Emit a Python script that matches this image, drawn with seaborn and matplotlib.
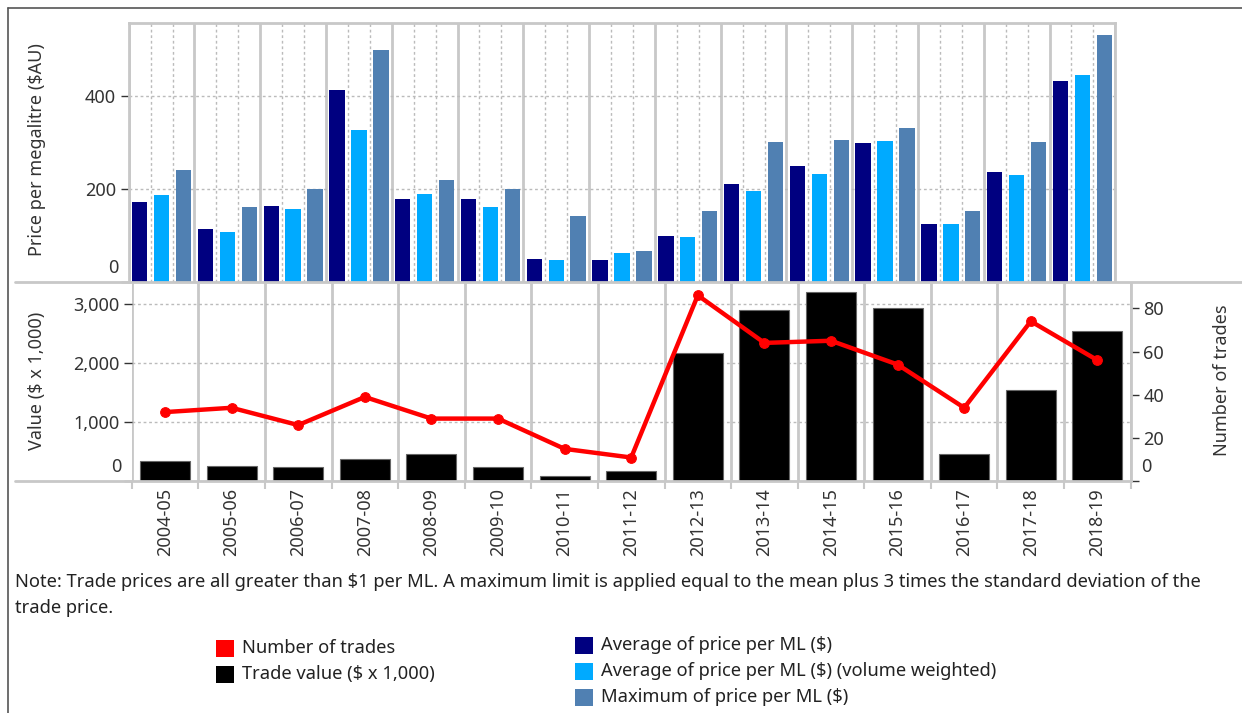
import numpy as np
import pandas as pd
import matplotlib
matplotlib.use('Agg')
import matplotlib.pyplot as plt
import seaborn as sns
from matplotlib.patches import Rectangle
from matplotlib.lines import Line2D

# Data
years = ['2004-05', '2005-06', '2006-07', '2007-08', '2008-09', '2009-10', '2010-11',
         '2011-12', '2012-13', '2013-14', '2014-15', '2015-16', '2016-17', '2017-18', '2018-19']
avg_price = [173, 113, 164, 412, 178, 178, 50, 47, 98, 210, 250, 298, 124, 236, 432]
avg_price_vw = [187, 107, 156, 326, 190, 161, 47, 62, 96, 195, 233, 303, 124, 230, 446]
max_price = [241, 161, 200, 500, 220, 201, 141, 67, 152, 301, 306, 332, 152, 301, 532]
trade_value = [349, 265, 237, 373, 468, 237, 85, 175, 2175, 2898, 3208, 2937, 468, 1547, 2553]
num_trades = [32, 34, 26, 39, 29, 29, 15, 11, 86, 64, 65, 54, 34, 74, 56]

series_names = ['Average of price per ML ($)',
                'Average of price per ML ($) (volume weighted)',
                'Maximum of price per ML ($)']
series_colors = ['#000080', '#00AAFF', '#5080B2']

df_price = pd.DataFrame({
    'year': years * 3,
    'price': avg_price + avg_price_vw + max_price,
    'series': [s for s in series_names for _ in years],
})
df_trades = pd.DataFrame({'year': years, 'value': trade_value,
                          'pos': np.arange(len(years)), 'count': num_trades})

sns.set_theme(style='white')
plt.rcParams['font.family'] = ['Noto Sans', 'DejaVu Sans']

W, H = 1242, 713
def fx(px):
    return px / W
def fy(py):
    return 1 - py / H

grid_c = '#C8C8C8'
text_c = '#333333'
axfs = 13

fig = plt.figure(figsize=(12.42, 7.13), dpi=100)
ax_top = fig.add_axes([fx(128.7), fy(282), fx(1115.3) - fx(128.7), (282 - 23) / H])
ax_bot = fig.add_axes([fx(131.7), fy(481.3), fx(1130.7) - fx(131.7), (481.3 - 283) / H])

# ---- top panel: prices
sns.barplot(data=df_price, x='year', y='price', hue='series', hue_order=series_names,
            palette=series_colors, width=1.0, gap=0.3, legend=False, ax=ax_top,
            edgecolor='none', saturation=1)
ax_top.set_xlim(-0.5, len(years) - 0.5)
ax_top.set_ylim(0, 557)
ax_top.set_xlabel('')
ax_top.set_ylabel('')
sub = np.sort(np.concatenate([np.arange(len(years)) - 1/6, np.arange(len(years)) + 1/6]))
ax_top.set_xticks(sub)
ax_top.set_xticks(np.arange(-0.5, len(years), 1), minor=True)
ax_top.tick_params(axis='x', which='both', length=0, labelbottom=False)
ax_top.set_yticks([0, 200, 400])
ax_top.set_yticklabels(['', '200', '400'])
ax_top.tick_params(axis='y', length=6, width=1, color=text_c, labelcolor=text_c,
                   labelsize=axfs, pad=3, left=True)
ax_top.set_axisbelow(True)
ax_top.grid(axis='y', which='major', linestyle=(0, (2, 2)), color='#BBBBBB', linewidth=1)
ax_top.grid(axis='x', which='major', linestyle=(0, (2, 2)), color='#BBBBBB', linewidth=1)
ax_top.grid(axis='x', which='minor', linestyle='-', color=grid_c, linewidth=2)
for s in ['top', 'left', 'right']:
    ax_top.spines[s].set_color(grid_c)
    ax_top.spines[s].set_linewidth(2)
ax_top.spines['bottom'].set_visible(False)
ax_top.annotate('0', xy=(0, 0), xycoords=('axes fraction', 'data'), xytext=(-10, 14),
                textcoords='offset pixels', ha='right', va='center',
                fontsize=axfs, color=text_c)

# ---- bottom panel: trade value bars and number of trades line
sns.barplot(data=df_trades, x='year', y='value', color='black', width=0.75,
            edgecolor='#666666', linewidth=0.8, saturation=1, ax=ax_bot)
ax_bot.set_xlim(-0.5, len(years) - 0.5)
ax_bot.set_ylim(0, 3360)
ax_bot.set_xlabel('')
ax_bot.set_ylabel('')
ax_bot.set_xticks(np.arange(len(years)))
ax_bot.set_xticklabels(years, rotation=90)
ax_bot.set_xticks(np.arange(-0.5, len(years), 1), minor=True)
ax_bot.tick_params(axis='x', which='major', length=0, pad=5, labelsize=axfs,
                   labelcolor=text_c)
ax_bot.tick_params(axis='x', which='minor', length=6, width=1.5, color=grid_c, bottom=True)
ax_bot.set_yticks([0, 1000, 2000, 3000])
ax_bot.set_yticklabels(['', '1,000', '2,000', '3,000'])
ax_bot.tick_params(axis='y', length=6, width=1, color=text_c, labelcolor=text_c,
                   labelsize=axfs, pad=3, left=True)
ax_bot.set_axisbelow(True)
ax_bot.grid(axis='y', which='major', linestyle=(0, (2, 2)), color='#BBBBBB', linewidth=1)
ax_bot.grid(axis='x', which='minor', linestyle='-', color=grid_c, linewidth=2)
for s in ['top', 'left', 'right', 'bottom']:
    ax_bot.spines[s].set_visible(False)
ax_bot.annotate('0', xy=(0, 0), xycoords=('axes fraction', 'data'), xytext=(-10, 14),
                textcoords='offset pixels', ha='right', va='center',
                fontsize=axfs, color=text_c)

ax2 = ax_bot.twinx()
sns.lineplot(data=df_trades, x='pos', y='count', color='#FF0000', linewidth=3.2,
             marker='o', markersize=7, markeredgecolor='#FF0000', ax=ax2)
ax2.set_ylim(0, 91.7)
ax2.set_xlim(-0.5, len(years) - 0.5)
ax2.set_ylabel('')
ax2.set_xlabel('')
ax2.set_yticks([0, 20, 40, 60, 80])
ax2.set_yticklabels(['', '20', '40', '60', '80'])
ax2.tick_params(axis='y', length=6, width=1, color=text_c, labelcolor=text_c,
                labelsize=axfs, pad=3, right=True)
for s in ['top', 'left', 'bottom']:
    ax2.spines[s].set_visible(False)
ax2.spines['right'].set_color(grid_c)
ax2.spines['right'].set_linewidth(2)
ax2.grid(False)
ax2.annotate('0', xy=(1, 0), xycoords=('axes fraction', 'data'), xytext=(10, 14),
             textcoords='offset pixels', ha='left', va='center',
             fontsize=axfs, color=text_c)

# long baselines that run past the panels
fig.add_artist(Line2D([fx(15), fx(1242)], [fy(282), fy(282)], color=grid_c, lw=2))
fig.add_artist(Line2D([fx(15), fx(1131)], [fy(481.3), fy(481.3)], color=grid_c, lw=2))
# outer frame
fig.add_artist(Line2D([fx(8), fx(1242)], [fy(8), fy(8)], color='#555555', lw=1.2))
fig.add_artist(Line2D([fx(8), fx(8)], [fy(8), 0], color='#555555', lw=1.2))

# axis titles
fig.text(fx(37), fy(150), 'Price per megalitre ($AU)', rotation=90, ha='center',
         va='center', fontsize=axfs, color=text_c)
fig.text(fx(37), fy(381), 'Value ($ x 1,000)', rotation=90, ha='center',
         va='center', fontsize=axfs, color=text_c)
fig.text(fx(1222), fy(380), 'Number of trades', rotation=90, ha='center',
         va='center', fontsize=axfs, color=text_c)

# note
notefs = 13.2
fig.text(fx(15), fy(582), 'Note: Trade prices are all greater than $1 per ML. A maximum limit is '
         'applied equal to the mean plus 3 times the standard deviation of the',
         ha='left', va='center', fontsize=notefs, color='#222222')
fig.text(fx(15), fy(608), 'trade price.', ha='left', va='center', fontsize=notefs,
         color='#222222')

# legend
left_items = [('Number of trades', '#FF0000', 648), ('Trade value ($ x 1,000)', '#000000', 674)]
right_items = [(series_names[0], series_colors[0], 645), (series_names[1], series_colors[1], 671),
               (series_names[2], series_colors[2], 697)]
for items, x0 in [(left_items, 216), (right_items, 575)]:
    for label, c, yc in items:
        fig.add_artist(Rectangle((fx(x0), fy(yc + 8.5)), 18 / W, 17 / H, facecolor=c,
                                 edgecolor='none', transform=fig.transFigure))
        fig.text(fx(x0 + 26), fy(yc), label, ha='left', va='center', fontsize=notefs,
                 color='#222222')

fig.savefig('out.png', dpi=100)
plt.close(fig)
